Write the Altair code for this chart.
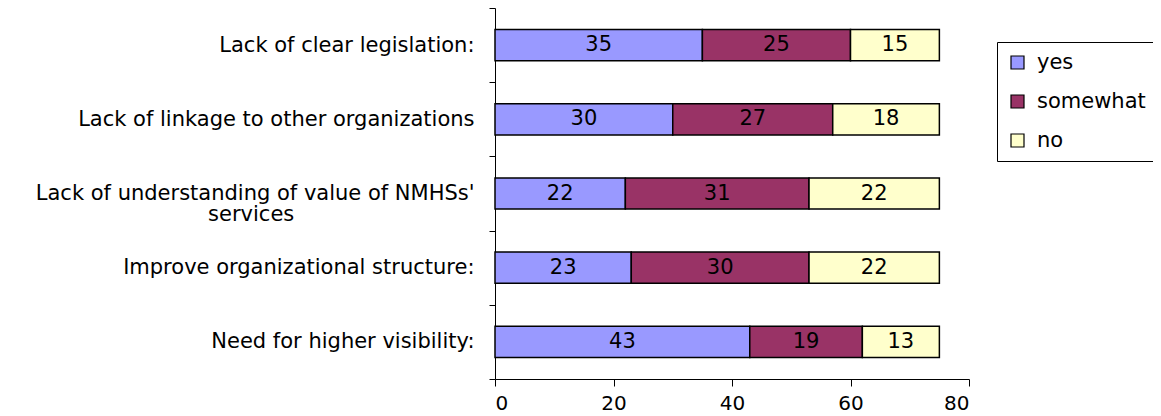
import altair as alt
import pandas as pd

categories = [
    "Lack of clear legislation:",
    "Lack of linkage to other organizations",
    "Lack of understanding of value of NMHSs'|services",
    "Improve organizational structure:",
    "Need for higher visibility:",
]
responses = ["yes", "somewhat", "no"]
yes_vals = [35, 30, 22, 23, 43]
somewhat_vals = [25, 27, 31, 30, 19]
no_vals = [15, 18, 22, 22, 13]
colors = ["#9999FF", "#993366", "#FFFFCC"]
x_ticks = [0, 20, 40, 60, 80]

rows = []
for i, c in enumerate(categories):
    for j, (r, vals) in enumerate(zip(responses, [yes_vals, somewhat_vals, no_vals])):
        rows.append({"category": c, "response": r, "order": j, "value": vals[i]})
df = pd.DataFrame(rows)

FONT = "DejaVu Sans"
FS = 21

# second line of a wrapped label sits centred under the first (as in the original);
# trailing no-break spaces, closed by a zero-width space so they survive trimming
PAD = "\u00a0" * 27 + "\u200b"
label_expr = (
    "indexof(datum.label, '|') >= 0 ? "
    "[split(datum.label, '|')[0], split(datum.label, '|')[1] + '" + PAD + "'] : datum.label"
)

y_enc = alt.Y(
    "category:N",
    sort=categories,
    title=None,
    scale=alt.Scale(paddingInner=0, paddingOuter=0),
    axis=alt.Axis(
        labelExpr=label_expr,
        tickBand="extent",
        tickSize=6,
        labelPadding=15,
        labelFontSize=FS,
        labelFont=FONT,
        labelColor="black",
        labelLineHeight=21,
        labelLimit=600,
        domainColor="black",
        tickColor="black",
    ),
)
x_scale = alt.Scale(domain=[0, 80], nice=False)
x_axis = alt.Axis(
    values=x_ticks,
    grid=False,
    tickSize=7,
    labelPadding=7,
    labelFontSize=20,
    labelFont=FONT,
    labelColor="black",
    domainColor="black",
    tickColor="black",
)

bars = (
    alt.Chart(df)
    .mark_bar(height={"band": 0.42}, stroke="black", strokeWidth=1.5)
    .encode(
        y=y_enc,
        x=alt.X("value:Q", stack="zero", title=None, scale=x_scale, axis=x_axis),
        color=alt.Color(
            "response:N",
            scale=alt.Scale(domain=responses, range=colors),
            legend=alt.Legend(
                title=None,
                orient="none",
                legendX=502,
                legendY=34,
                padding=10,
                strokeColor="black",
                cornerRadius=0,
                symbolType="square",
                symbolSize=169,
                symbolStrokeColor="black",
                symbolStrokeWidth=1.2,
                labelFontSize=FS,
                labelFont=FONT,
                labelColor="black",
                labelOffset=9,
                rowPadding=17,
            ),
        ),
        order=alt.Order("order:Q"),
    )
)

labels = (
    alt.Chart(df)
    .transform_window(
        cum="sum(value)", groupby=["category"], sort=[alt.SortField("order")]
    )
    .transform_calculate(mid="datum.cum - datum.value / 2")
    .mark_text(font=FONT, fontSize=FS, color="black", baseline="middle", align="center")
    .encode(
        y=y_enc,
        x=alt.X("mid:Q", title=None, scale=x_scale, axis=x_axis),
        text=alt.Text("value:Q"),
    )
)

chart = (
    alt.layer(bars, labels)
    .properties(
        width=474,
        height=371,
        autosize=alt.AutoSizeParams(type="none"),
        padding={"left": 487, "top": 0, "right": 184, "bottom": 36},
    )
    .configure_view(stroke=None)
)

chart.save("out.html", embed_options={"renderer": "svg", "actions": False})
